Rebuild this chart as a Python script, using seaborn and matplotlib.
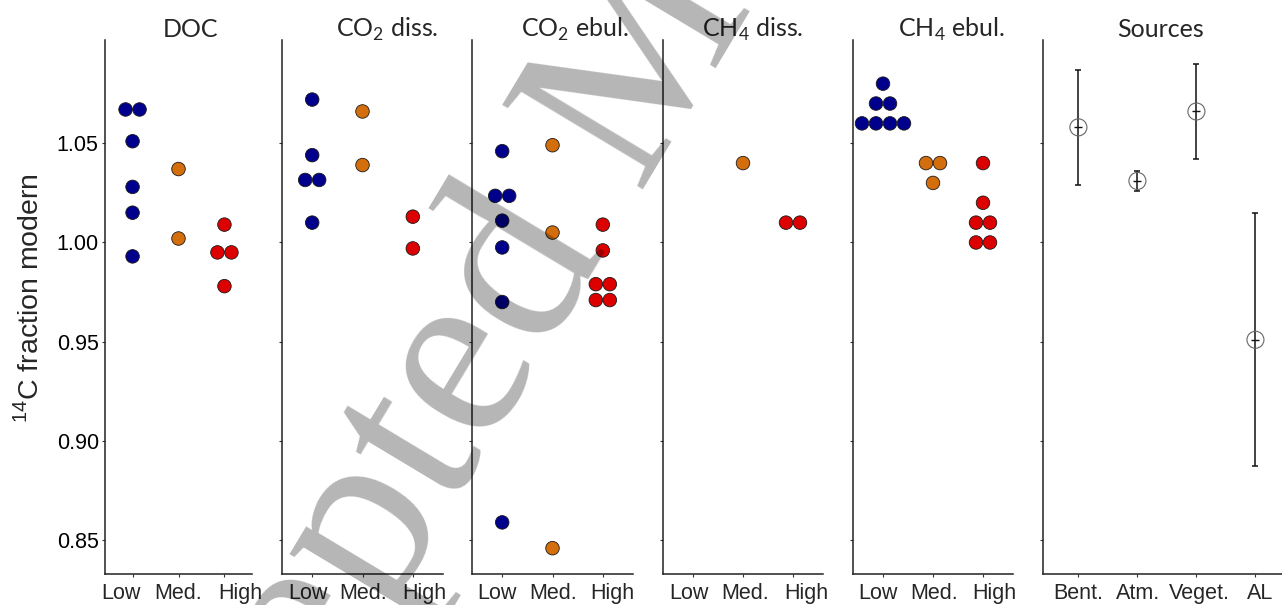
import numpy as np
import pandas as pd
import matplotlib
matplotlib.use("Agg")
import matplotlib.pyplot as plt
import matplotlib.transforms as mtransforms
import seaborn as sns

# Data
levels = ["Low", "Med.", "High"]
level_colors = {"Low": "#00008C", "Med.": "#D46E0C", "High": "#DC0000"}

doc_low = [1.067, 1.067, 1.051, 1.028, 1.015, 0.993]
doc_med = [1.037, 1.002]
doc_high = [1.009, 0.995, 0.995, 0.978]

co2_diss_low = [1.072, 1.044, 1.0315, 1.0315, 1.010]
co2_diss_med = [1.066, 1.039]
co2_diss_high = [1.013, 0.997]

co2_ebul_low = [1.046, 1.0235, 1.0235, 1.011, 0.9975, 0.970, 0.859]
co2_ebul_med = [1.049, 1.005, 0.846]
co2_ebul_high = [1.009, 0.996, 0.979, 0.979, 0.971, 0.971]

ch4_diss_low = []
ch4_diss_med = [1.04]
ch4_diss_high = [1.01, 1.01]

ch4_ebul_low = [1.08, 1.07, 1.07, 1.06, 1.06, 1.06, 1.06]
ch4_ebul_med = [1.04, 1.04, 1.03]
ch4_ebul_high = [1.04, 1.02, 1.01, 1.01, 1.00, 1.00]

sources = ["Bent.", "Atm.", "Veget.", "AL"]
source_mean = [1.058, 1.031, 1.066, 0.951]
source_low = [1.029, 1.026, 1.042, 0.8875]
source_high = [1.087, 1.036, 1.090, 1.015]

panel_titles = ["DOC", "CO$_\\mathregular{2}$ diss.", "CO$_\\mathregular{2}$ ebul.",
                "CH$_\\mathregular{4}$ diss.", "CH$_\\mathregular{4}$ ebul.", "Sources"]
panel_groups = [
    [doc_low, doc_med, doc_high],
    [co2_diss_low, co2_diss_med, co2_diss_high],
    [co2_ebul_low, co2_ebul_med, co2_ebul_high],
    [ch4_diss_low, ch4_diss_med, ch4_diss_high],
    [ch4_ebul_low, ch4_ebul_med, ch4_ebul_high],
]
y_ticks = [0.85, 0.90, 0.95, 1.00, 1.05]

sns.set_theme(style="white")
plt.rcParams["font.family"] = ["Liberation Sans", "DejaVu Sans"]

W, H = 1282, 605
fig = plt.figure(figsize=(W / 100, H / 100), dpi=100)
panel_px = [(105, 147), (282, 161), (472, 161), (663, 160), (853, 160), (1043, 239)]
title_cx = [190, 387, 575, 753, 951, 1161]
# horizontal nudges (px) of the category labels, as in the original layout
label_nudge = [[-12, 0, 16], [-4, 1, 11], [-5, 1, 10], [-4, 2, 13], [-5, 1, 11], [0, 1, 3, 5]]
y_bot, y_top = 574, 40
axes = [fig.add_axes([l / W, (H - y_bot) / H, w / W, (y_bot - y_top) / H]) for l, w in panel_px]

dot_px = 14


def dot_offsets(vals, units_per_px):
    # centre identical values side by side, like a centred dot plot
    vals = np.asarray(vals, dtype=float)
    off = np.zeros(len(vals))
    for v in np.unique(vals):
        idx = np.where(vals == v)[0]
        k = len(idx)
        off[idx] = (np.arange(k) - (k - 1) / 2) * dot_px * units_per_px
    return off


def style_axis(ax, first, labels, nudges):
    ax.set_ylim(0.833, 1.102)
    ax.set_yticks(y_ticks)
    ax.set_yticklabels([f"{t:.2f}" for t in y_ticks])
    ax.set_xticks(range(len(labels)))
    ax.set_xlabel("")
    ax.set_ylabel("")
    for s in ["top", "right"]:
        ax.spines[s].set_visible(False)
    for s in ["left", "bottom"]:
        ax.spines[s].set_color("#222222")
        ax.spines[s].set_linewidth(1.1)
    ax.tick_params(axis="both", direction="out", length=2.5, width=0.8, color="#333333",
                   labelsize=15.5, pad=2, bottom=True, left=True, labelcolor="black",
                   labelbottom=False)
    if not first:
        ax.tick_params(axis="y", labelleft=False)
    trans = mtransforms.blended_transform_factory(ax.transData, ax.transAxes)
    for j, (lbl, dx) in enumerate(zip(labels, nudges)):
        t = ax.text(j, -(599 - y_bot) / (y_bot - y_top), lbl, ha="center", va="baseline",
                    fontsize=15.5, transform=trans)
        t.set_transform(trans + mtransforms.ScaledTranslation(dx / 100, 0, fig.dpi_scale_trans))


for i, (ax, groups) in enumerate(zip(axes[:5], panel_groups)):
    units_per_px = 3.2 / panel_px[i][1]
    rows = []
    for j, (lvl, vals) in enumerate(zip(levels, groups)):
        for v, o in zip(vals, dot_offsets(vals, units_per_px)):
            rows.append({"level": lvl, "value": v, "x": j + o})
    df = pd.DataFrame(rows, columns=["level", "value", "x"])
    sns.scatterplot(data=df, x="x", y="value", hue="level", hue_order=levels,
                    palette=level_colors, s=95, edgecolor="#1a1a1a", linewidth=0.6,
                    legend=False, ax=ax, zorder=3)
    ax.set_xlim(-0.6, 2.6)
    style_axis(ax, i == 0, levels, label_nudge[i])

# Sources panel
ax = axes[5]
xs = np.arange(len(sources))
mean = np.array(source_mean)
ax.errorbar(xs, mean, yerr=[mean - np.array(source_low), np.array(source_high) - mean],
            fmt="none", ecolor="#111111", elinewidth=1.1, capsize=2.5, capthick=1.1)
sns.scatterplot(x=xs, y=mean, marker="o", s=150, color="white", edgecolor="#666666",
                linewidth=0.8, ax=ax, zorder=3)
ax.collections[-1].set_facecolor("none")
sns.scatterplot(x=xs, y=mean, marker="_", s=36, color="#111111", linewidth=1.0, ax=ax, zorder=4)
ax.set_xlim(-0.6, 3.45)
style_axis(ax, False, sources, label_nudge[5])

axes[0].set_ylabel("$^{\\mathregular{14}}$C fraction modern", fontsize=20.5)
axes[0].yaxis.set_label_coords((44 - 105) / 147, (y_bot - 298) / (y_bot - y_top))

for cx, title in zip(title_cx, panel_titles):
    fig.text(cx / W, (H - 37) / H, title, ha="center", va="baseline", fontsize=18,
             family=["Lato", "DejaVu Sans"])

# watermark
fig.text(122 / W, (H - 1058) / H, "Accepted Manuscript", rotation=59, rotation_mode="anchor",
         ha="left", va="baseline", fontsize=180, family=["Liberation Serif", "DejaVu Serif"],
         color="black", alpha=0.29, zorder=10)

fig.savefig("out.png", dpi=100)
